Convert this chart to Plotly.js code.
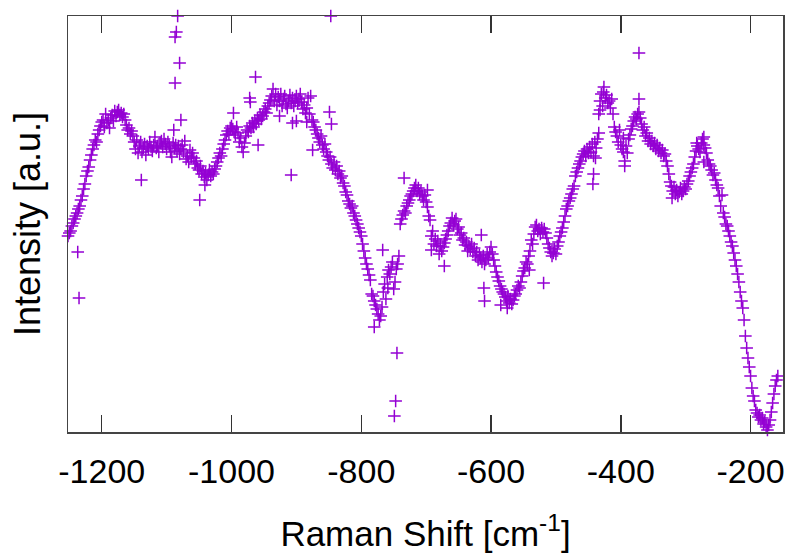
<!DOCTYPE html>
<html>
<head>
<meta charset="utf-8">
<script src="https://cdn.plot.ly/plotly-3.0.1.min.js"></script>
<style>
  html, body { margin: 0; padding: 0; background: #ffffff; }
  #chart { width: 789px; height: 553px; }
</style>
</head>
<body>
<div id="chart"></div>
<script>
// Raman shift positions (cm^-1) of the main spectrum
const ramanShift = [
  -1252,-1250,-1248,-1246,-1244,-1242,-1240,-1238,-1236,-1234,-1232,-1230,-1228,-1226,-1224,-1222,-1220,-1218,-1216,-1214,-1212,-1210,-1208,-1206,-1204,-1202,-1200,
  -1198,-1196,-1194,-1192,-1190,-1188,-1186,-1184,-1182,-1180,-1178,-1176,-1174,-1172,-1170,-1168,-1166,-1164,-1162,-1160,-1158,-1156,-1154,-1152,-1150,
  -1148,-1146,-1144,-1142,-1140,-1138,-1136,-1134,-1132,-1130,-1128,-1126,-1124,-1122,-1120,-1118,-1116,-1114,-1112,-1110,-1108,-1106,-1104,-1102,-1100,-1098,-1096,-1094,-1092,-1090,-1088,-1086,-1084,-1082,-1080,-1078,
  -1076,-1074,-1072,-1070,-1068,-1066,-1064,-1062,-1060,-1058,-1056,-1054,-1052,-1050,-1048,-1046,-1044,-1042,-1040,-1038,-1036,-1034,-1032,-1030,-1028,-1026,-1024,-1022,-1020,-1018,-1016,-1014,-1012,-1010,-1008,-1006,-1004,-1002,-1000,
  -998,-996,-994,-992,-990,-988,-986,-984,-982,-980,-978,-976,-974,-972,-970,-968,-966,-964,-962,-960,-958,-956,-954,-952,-950,-948,-946,-944,-942,-940,
  -938,-936,-934,-932,-930,-928,-926,-924,-922,-920,-918,-916,-914,-912,-910,-908,-906,-904,-902,-900,-898,-896,-894,-892,-890,-888,-886,-884,-882,-880,-878,-876,-874,-872,-870,
  -868,-866,-864,-862,-860,-858,-856,-854,-852,-850,-848,-846,-844,-842,-840,-838,-836,-834,-832,-830,-828,-826,-824,-822,-820,-818,-816,-814,-812,-810,-808,-806,-804,-802,-800,-798,-796,-794,-792,-790,-788,-786,-784,-782,-780,-778,-776,-774,-772,-770,
  -768,-766,-764,-762,-760,-758,-756,-754,-752,-750,-748,-746,-744,-742,
  -740,-738,-736,-734,-732,-730,-728,-726,-724,-722,-720,-718,-716,-714,-712,-710,-708,-706,-704,-702,-700,-698,-696,
  -694,-692,-690,-688,-686,-684,-682,-680,-678,-676,-674,-672,-670,-668,-666,-664,-662,-660,-658,-656,-654,-652,-650,-648,-646,-644,-642,-640,-638,-636,-634,-632,-630,-628,-626,-624,-622,-620,-618,-616,-614,-612,-610,-608,-606,-604,-602,-600,-598,-596,
  -594,-592,-590,-588,-586,-584,-582,-580,-578,-576,-574,-572,-570,-568,-566,-564,-562,-560,-558,-556,-554,-552,-550,-548,-546,-544,-542,-540,-538,-536,-534,-532,-530,-528,-526,-524,-522,-520,-518,-516,-514,-512,
  -510,-508,-506,-504,-502,-500,-498,-496,-494,-492,-490,-488,-486,-484,-482,-480,-478,-476,-474,-472,-470,-468,-466,-464,-462,-460,-458,-456,-454,-452,-450,-448,-446,-444,-442,-440,-438,-436,
  -434,-432,-430,-428,-426,-424,-422,-420,-418,-416,-414,-412,-410,-408,-406,-404,-402,-400,-398,-396,-394,-392,-390,-388,-386,-384,-382,-380,-378,-376,-374,-372,
  -370,-368,-366,-364,-362,-360,-358,-356,-354,-352,-350,-348,-346,-344,-342,-340,-338,-336,-334,-332,-330,-328,-326,-324,-322,-320,-318,
  -316,-314,-312,-310,-308,-306,-304,-302,-300,-298,-296,-294,-292,-290,-288,-286,-284,-282,-280,-278,-276,-274,-272,-270,-268,-266,-264,-262,-260,-258,-256,-254,-252,-250,-248,
  -246,-244,-242,-240,-238,-236,-234,-232,-230,-228,-226,-224,-222,-220,-218,-216,-214,-212,-210,-208,-206,-204,-202,-200,-198,-196,-194,-192,-190,-188,-186,-184,-182,-180,-178,-176,-174,-172,-170,-168,-166,-164,-162,-160,-158
];
// Intensity (arbitrary units) of the main spectrum
const intensity = [
  196,199,201,206,209,213,216,219,223,226,232,236,243,248,256,261,265,272,277,283,287,292,290,298,302,306,310,
  312,305,318,309,312,304,314,317,311,321,316,320,322,317,319,315,318,312,307,302,304,298,301,296,290,
  283,292,279,286,290,280,284,288,277,286,283,290,285,281,287,295,284,286,280,289,291,285,293,288,283,290,286,280,275,289,284,287,281,286,278,283,
  287,280,291,273,276,270,282,275,279,274,268,271,264,262,266,258,261,255,259,252,257,262,256,260,258,263,266,270,274,279,276,283,288,292,297,301,298,304,306,
  303,300,297,305,299,290,294,285,280,289,296,302,300,306,304,309,305,311,308,314,312,317,313,316,320,323,319,326,329,332,
  336,343,331,338,327,335,331,338,326,333,336,328,324,331,337,329,334,326,331,336,329,333,338,330,323,327,319,324,334,318,336,312,310,305,302,
  298,294,290,296,287,283,288,280,276,272,275,268,264,270,262,266,258,261,254,256,249,246,240,237,231,228,224,226,219,216,212,208,204,200,196,188,181,174,168,163,157,152,138,136,131,127,123,118,112,116,
  125,140,148,133,155,162,158,165,170,143,150,163,168,176,
  208,213,217,221,219,226,229,232,236,238,241,244,247,241,244,238,240,236,232,237,230,225,216,
  212,196,201,188,193,186,191,178,186,181,185,189,193,197,201,206,209,214,207,211,213,203,205,197,199,192,194,187,190,181,186,183,188,180,184,176,180,172,177,174,170,176,168,172,178,174,180,185,178,172,
  166,160,155,151,146,143,140,138,135,131,136,129,133,128,132,136,138,142,146,144,150,156,161,164,170,168,176,181,192,188,198,205,207,201,203,198,204,200,203,199,194,188,
  184,180,176,179,183,178,186,190,196,200,204,210,216,223,226,231,234,238,243,246,256,260,264,268,271,275,278,281,276,283,279,285,280,288,276,290,284,293,
  318,331,338,326,345,334,337,329,331,324,333,318,305,300,296,290,302,287,283,294,271,286,279,293,297,303,306,311,315,313,318,320,
  314,308,302,305,296,299,291,294,288,291,286,289,283,287,281,284,279,282,276,278,271,266,258,250,246,241,245,
  238,242,236,240,244,238,241,245,243,248,251,256,260,264,268,275,281,286,283,280,289,293,287,284,279,272,268,266,262,257,259,252,247,244,236,
  226,237,219,215,208,206,201,196,190,186,179,172,166,158,150,140,131,124,112,96,84,74,65,56,44,36,31,22,19,15,17,12,14,8,10,5,2,7,12,20,29,38,46,52,56
];
// Isolated points away from the main band (spikes / outliers)
const outlierShift = [-1237,-1235,-1139,-1083,-1085,-1087,-1080,-1087,-1078,-1089,-1049,-1041,-997,-972,-971,-963,-959,-926,-906,-900,-908,-884,-849,-846,-847,-875,-780,-767,-759,-745,-747,-749,-734,-698,-672,-615,-611,-610,-692,-585,-575,-519,-541,-442,-443,-439,-434,-432,-427,-396,-394,-372,-372,-321,-283,-272,-272];
const outlierIntensity = [180,134,252,416,400,395,369,349,312,302,232,247,319,334,330,355,287,316,309,311,257,310,320,308,416,282,105,182,144,79,31,16,254,242,166,197,144,131,182,127,124,149,162,258,248,274,299,322,340,280,266,379,333,234,289,295,270];

const tickValues = [-1200,-1000,-800,-600,-400,-200];
const tickLabels = ['-1200','-1000','-800','-600','-400','-200'];

const FONT = 'Liberation Sans, Arial, Helvetica, sans-serif';
const markerStyle = {
  symbol: 'cross-thin',
  size: 9,
  color: '#9400D3',
  line: { color: '#9400D3', width: 1.5 }
};

const traces = [
  { x: ramanShift, y: intensity, type: 'scatter', mode: 'markers', marker: markerStyle, cliponaxis: false, showlegend: false, hoverinfo: 'skip' },
  { x: outlierShift, y: outlierIntensity, type: 'scatter', mode: 'markers', marker: markerStyle, cliponaxis: false, showlegend: false, hoverinfo: 'skip' }
];

const layout = {
  width: 789,
  height: 553,
  margin: { l: 68, r: 6, t: 16, b: 121, pad: 0 },
  paper_bgcolor: '#ffffff',
  plot_bgcolor: '#ffffff',
  showlegend: false,
  font: { family: FONT, color: '#000000', size: 34 },
  xaxis: {
    range: [-1252, -150],
    tickmode: 'array',
    tickvals: tickValues,
    ticktext: tickLabels,
    ticks: 'inside',
    ticklen: 17,
    tickwidth: 1.5,
    tickcolor: '#333333',
    mirror: 'ticks',
    showline: true,
    linecolor: '#444444',
    linewidth: 1.5,
    showgrid: false,
    zeroline: false,
    ticklabelstandoff: 9,
    tickfont: { family: FONT, size: 34, color: '#000000' },
    title: { text: 'Raman Shift [cm<sup>-1</sup>]', font: { family: FONT, size: 35, color: '#000000' }, standoff: 59 },
    automargin: false
  },
  yaxis: {
    range: [0, 416],
    showticklabels: false,
    ticks: '',
    mirror: true,
    showline: true,
    linecolor: '#444444',
    linewidth: 1.5,
    showgrid: false,
    zeroline: false,
    title: { text: 'Intensity [a.u.]', font: { family: FONT, size: 36, color: '#000000' }, standoff: 15 },
    automargin: false
  }
};

Plotly.newPlot('chart', traces, layout, { staticPlot: true, displayModeBar: false });
</script>
</body>
</html>
